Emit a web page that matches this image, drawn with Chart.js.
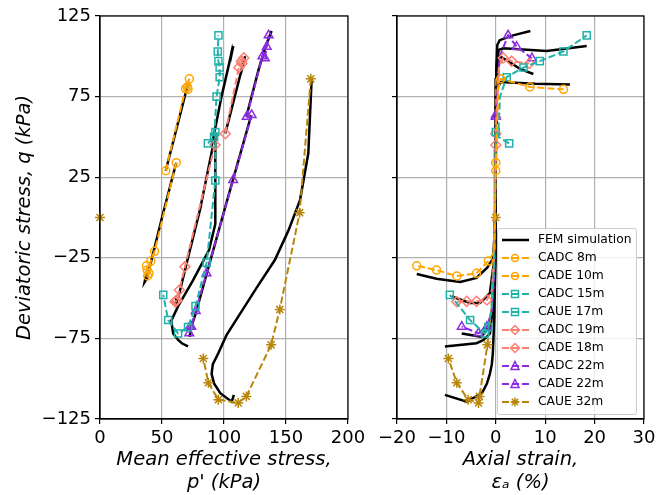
<!DOCTYPE html>
<html lang="en">
<head>
<meta charset="UTF-8">
<title>Stress paths</title>
<style>
  body { margin: 0; background: #fff; }
  #wrap { position: relative; width: 668px; height: 495px; }
  #left { position: absolute; left: 0; top: 0; }
  #right { position: absolute; left: 372px; top: 0; }
  #legend {
    position: absolute; left: 497px; top: 228px; width: 138px; height: 183px;
    background: rgba(255,255,255,0.8); border: 1px solid #cccccc; border-radius: 3px;
    font: 12.3px "DejaVu Sans", sans-serif; color: #000; padding-top: 2px; box-sizing: content-box;
  }
  .row { position: relative; height: 18px; }
  .row svg { position: absolute; left: 4px; top: 0; }
  .row span { position: absolute; left: 40px; top: 1px; white-space: nowrap; }
</style>
</head>
<body>
<div id="wrap">
  <canvas id="left" width="372" height="495"></canvas>
  <canvas id="right" width="296" height="495"></canvas>
  <div id="legend"></div>
</div>
<script src="https://cdn.jsdelivr.net/npm/chart.js"></script>
<script>
// tick labels
const pTicks = [0, 50, 100, 150, 200];
const eTicks = [-20, -10, 0, 10, 20, 30];
const qTicks = [-125, -75, -25, 25, 75, 125];

// test data: p' (kPa), q (kPa), axial strain (%)
const cadc8P = [53, 69, 72, 70.5, 71];
const cadc8Q = [29, 80, 86, 81, 79.5];
const cadc8E = [0, 0.5, 1, 6.9, 13.7];

const cade10P = [61.5, 44, 41, 39.5, 38.5, 38, 37.5];
const cade10Q = [34, -21, -27, -34.6, -36.3, -32.6, -30];
const cade10E = [0, -0.3, -1.5, -3.9, -7.9, -12, -16];

const cadc15P = [87, 92, 94, 96.5, 96.5, 95.5, 95, 95.5];
const cadc15Q = [46, 50, 75, 87, 93, 97, 103, 113];
const cadc15E = [2.7, 0.5, 0.85, 2.2, 5.6, 8.9, 13.7, 18.4];

const caue17P = [93, 93, 86, 77, 71, 63, 55, 51];
const caue17Q = [53, 23, -28, -55, -68, -72, -63.6, -48];
const caue17E = [0, -0.1, -0.3, -0.8, -1.5, -2.2, -5.2, -9.3];

const cadc19P = [101, 112, 116, 114, 114.5];
const cadc19Q = [52, 93, 99, 97, 95.5];
const cadc19E = [0, 0.6, 1.5, 3.2, 6.8];

const cade18P = [92.7, 68.5, 64, 62, 61.5, 61, 60.5];
const cade18Q = [45, -30.5, -45, -51.2, -52, -52, -52.2];
const cade18E = [0, -0.4, -0.8, -1.8, -3.9, -5.9, -7.9];

const cadc22P = [118.3, 131, 136, 134.5, 133];
const cadc22Q = [62.5, 100, 113, 106, 98.8];
const cadc22E = [0, 0.8, 2.5, 4.2, 7.3];

const cade22P = [122.3, 107.4, 85.9, 77.2, 73.6, 72, 72.5];
const cade22Q = [63.6, 23.3, -34.6, -58, -67.7, -71.8, -67.7];
const cade22E = [0, -0.1, -0.3, -0.8, -1.8, -3.5, -6.9];

const caue32P = [0, null, 170, 161, 145, 138, 118, 111.5, 95.4, 87.4, 83.3];
const caue32Q = [0, null, 86, 3, -57, -79, -111, -115, -113, -102.5, -87.5];
const caue32E = [0, null, 0, -0.15, -0.9, -1.7, -3.3, -3.5, -5.6, -7.9, -9.6];

// FEM simulations
const fem8P = [53, 62, 70, 71.5, 71.3, 71];
const fem8Q = [29, 56, 80, 84, 83, 82.5];
const fem8E = [0, 0.05, 0.2, 1, 8, 15];

const fem10P = [61.5, 50, 42, 40, 38, 36, 36.5, 37.5];
const fem10Q = [34, 0, -25, -31, -37.5, -40, -38, -35];
const fem10E = [0, -0.1, -0.5, -1.7, -3.9, -7.2, -12, -16];

const fem15P = [90, 98, 104, 106.5, 106.8, 106.5, 107.5];
const fem15Q = [44, 75, 95, 104, 105, 103.3, 106.4];
const fem15E = [0, 0.05, 0.2, 0.6, 1.5, 10.3, 18.4];

const fem17P = [93, 93, 88, 75, 63, 57.5, 59, 63, 66, 71];
const fem17Q = [53, -4, -20, -39, -55, -64, -72, -76, -78, -80];
const fem17E = [0, -0.05, -0.1, -0.3, -0.6, -0.9, -1.2, -2.5, -3.9, -10.3];

const fem18P = [91, 80.6, 70, 64, 61.5, 61, 62];
const fem18Q = [44, 4.6, -28, -47, -53, -53, -49];
const fem18E = [0, -0.15, -0.4, -1.2, -3.2, -5.2, -8.9];

const fem19P = [101, 107, 112, 116, 117, 116, 114.5, 113.5];
const fem19Q = [52, 70, 85, 97, 100, 97, 92, 89];
const fem19E = [0, 0.05, 0.15, 0.4, 0.8, 2.5, 5, 7.6];

const fem22cP = [118, 128, 134, 135.5, 137, 138.4];
const fem22cQ = [62.5, 92, 107, 110, 113, 115.7];
const fem22cE = [0, 0.1, 0.3, 0.8, 3.5, 7];

const fem22eP = [122, 100.5, 86, 77, 73.5, 72.5, 72.5];
const fem22eQ = [63.5, 5, -35, -60, -68, -74, -72];
const fem22eE = [0, -0.1, -0.3, -0.8, -1.5, -2.9, -6.9];

const fem32P = [170.7, 168, 161.3, 152, 141, 126, 111.5, 102, 95.4, 91, 90, 92, 97, 106.2, 108];
const fem32Q = [86.4, 39.8, 10.8, -8, -26.4, -44, -61.5, -73, -84.2, -91, -97, -103, -109, -114.3, -110];
const fem32E = [0, 0, -0.02, -0.05, -0.1, -0.2, -0.3, -0.45, -0.6, -0.8, -1.2, -1.8, -2.8, -5.9, -10.3];

const tests = [
  {label: 'CADC 8m', p: cadc8P, q: cadc8Q, e: cadc8E, color: '#ffa500', marker: 'circle'},
  {label: 'CADE 10m', p: cade10P, q: cade10Q, e: cade10E, color: '#ffa500', marker: 'circle'},
  {label: 'CADC 15m', p: cadc15P, q: cadc15Q, e: cadc15E, color: '#20b2aa', marker: 'rect'},
  {label: 'CAUE 17m', p: caue17P, q: caue17Q, e: caue17E, color: '#20b2aa', marker: 'rect'},
  {label: 'CADC 19m', p: cadc19P, q: cadc19Q, e: cadc19E, color: '#fa8072', marker: 'rectRot'},
  {label: 'CADE 18m', p: cade18P, q: cade18Q, e: cade18E, color: '#fa8072', marker: 'rectRot'},
  {label: 'CADC 22m', p: cadc22P, q: cadc22Q, e: cadc22E, color: '#8a2be2', marker: 'triangle'},
  {label: 'CADE 22m', p: cade22P, q: cade22Q, e: cade22E, color: '#8a2be2', marker: 'triangle'},
  {label: 'CAUE 32m', p: caue32P, q: caue32Q, e: caue32E, color: '#b8860b', marker: 'star'}
];
const fems = [
  [fem8P, fem8Q, fem8E], [fem10P, fem10Q, fem10E], [fem15P, fem15Q, fem15E],
  [fem17P, fem17Q, fem17E], [fem18P, fem18Q, fem18E], [fem19P, fem19Q, fem19E],
  [fem22cP, fem22cQ, fem22cE], [fem22eP, fem22eQ, fem22eE], [fem32P, fem32Q, fem32E]
];

const markerSize = {circle: 4, rect: 5, rectRot: 5, triangle: 5, star: 5};

function pts(xs, ys) {
  return xs.map((x, i) => ({x: x, y: ys[i]}));
}

function makeDatasets(useStrain) {
  const out = [];
  tests.forEach(t => {
    const r = markerSize[t.marker];
    out.push({
      label: t.label,
      data: pts(useStrain ? t.e : t.p, t.q),
      showLine: true,
      borderColor: t.color,
      borderWidth: 2,
      borderDash: [7, 3],
      pointStyle: t.marker,
      // on the strain panel, skip markers on the near-vertical elastic part
      pointRadius: useStrain
        ? (ctx => (ctx.dataIndex === 0 || Math.abs(t.e[ctx.dataIndex]) >= 1 ? r : 0))
        : r,
      pointBorderColor: t.color,
      pointBackgroundColor: 'rgba(0,0,0,0)',
      pointBorderWidth: 1.5,
      clip: false
    });
  });
  fems.forEach(f => {
    out.push({
      label: 'FEM simulation',
      data: pts(useStrain ? f[2] : f[0], f[1]),
      showLine: true,
      borderColor: '#000',
      borderWidth: 2.5,
      pointRadius: 0,
      clip: false
    });
  });
  return out;
}

const frame = {
  id: 'frame',
  afterDraw(chart) {
    const a = chart.chartArea, ctx = chart.ctx;
    ctx.save();
    ctx.strokeStyle = '#000';
    ctx.lineWidth = 1.2;
    ctx.strokeRect(a.left, a.top, a.right - a.left, a.bottom - a.top);
    ctx.restore();
  }
};

Chart.defaults.font.family = '"DejaVu Sans", sans-serif';
Chart.defaults.color = '#000';

const minus = v => String(v).replace('-', '\u2212');
const gridOpts = {color: '#b0b0b0', lineWidth: 1.2, tickColor: '#000', tickLength: 5, tickWidth: 1.2};
const titleFont = {size: 19.5, style: 'italic'};

function xAxis(min, max, tickList, title) {
  return {
    type: 'linear', min: min, max: max,
    afterBuildTicks: s => { s.ticks = tickList.map(v => ({value: v})); },
    ticks: {font: {size: 18}, padding: 4, callback: minus},
    grid: gridOpts,
    border: {color: '#000', width: 1.2},
    title: {display: true, text: title, font: titleFont, padding: {top: 0, bottom: 0}},
    afterFit: s => { s.height = 76; }
  };
}

function yAxis(showLabels, width) {
  return {
    type: 'linear', min: -125, max: 125,
    afterBuildTicks: s => { s.ticks = qTicks.map(v => ({value: v})); },
    ticks: {display: showLabels, font: {size: 18}, padding: 4, callback: minus},
    grid: gridOpts,
    border: {color: '#000', width: 1.2},
    title: {display: showLabels, text: 'Deviatoric stress, q (kPa)', font: titleFont, padding: {top: 13, bottom: 0}},
    afterFit: s => { s.width = width; }
  };
}

function baseOptions(padRight, x, y) {
  return {
    responsive: false,
    animation: false,
    events: [],
    layout: {padding: {top: 16, right: padRight, left: 0, bottom: 0}},
    plugins: {legend: {display: false}, tooltip: {enabled: false}},
    scales: {x: x, y: y}
  };
}

new Chart(document.getElementById('left'), {
  type: 'scatter',
  data: {datasets: makeDatasets(false)},
  options: baseOptions(24, xAxis(0, 200, pTicks, ['Mean effective stress,', "p' (kPa)"]), yAxis(true, 100)),
  plugins: [frame]
});

new Chart(document.getElementById('right'), {
  type: 'scatter',
  data: {datasets: makeDatasets(true)},
  options: baseOptions(24, xAxis(-20, 30, eTicks, ['Axial strain,', '\u03b5\u2090 (%)']), yAxis(false, 25)),
  plugins: [frame]
});

// legend inside the strain panel
function markerSvg(shape, c) {
  const s = 'fill="none" stroke="' + c + '" stroke-width="1.5"';
  if (shape === 'circle') return '<circle cx="13" cy="9" r="3.5" ' + s + '/>';
  if (shape === 'rect') return '<rect x="9.5" y="5.5" width="7" height="7" ' + s + '/>';
  if (shape === 'rectRot') return '<polygon points="13,4.5 17.5,9 13,13.5 8.5,9" ' + s + '/>';
  if (shape === 'triangle') return '<polygon points="13,4.5 17,12.5 9,12.5" ' + s + '/>';
  return '<path d="M13 4.5V13.5M8.5 9H17.5M9.8 5.8L16.2 12.2M16.2 5.8L9.8 12.2" ' + s + '/>';
}
const legend = document.getElementById('legend');
let html = '<div class="row"><svg width="30" height="18"><line x1="0" y1="9" x2="27" y2="9" stroke="#000" stroke-width="2.5"/></svg><span>FEM simulation</span></div>';
tests.forEach(t => {
  html += '<div class="row"><svg width="30" height="18"><line x1="0" y1="9" x2="27" y2="9" stroke="' + t.color +
    '" stroke-width="2" stroke-dasharray="7 3"/>' + markerSvg(t.marker, t.color) + '</svg><span>' + t.label + '</span></div>';
});
legend.innerHTML = html;
</script>
</body>
</html>
